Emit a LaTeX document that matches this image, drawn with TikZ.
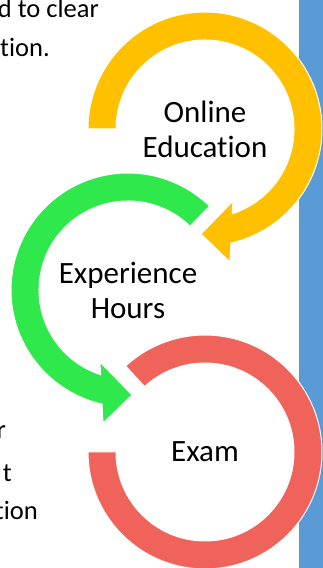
\documentclass[tikz,border=0pt]{standalone}
\usepackage{fontspec}
\setmainfont{Carlito}[Ligatures={NoCommon}]
\usetikzlibrary{calc}
\definecolor{barblue}{RGB}{91,155,213}
\definecolor{ringyellow}{RGB}{255,192,0}
\definecolor{ringgreen}{RGB}{46,232,76}
\definecolor{ringred}{RGB}{240,99,90}
\tikzset{
  ring/.style={draw=white, line width=1pt, line join=miter},
  lbl/.style={font=\fontsize{31}{35}\selectfont, align=center, inner sep=0pt},
  side/.style={font=\fontsize{26.5}{32}\selectfont, inner sep=0pt},
}
\begin{document}
\begin{tikzpicture}[x=1pt,y=1pt]
\useasboundingbox (0,0) rectangle (323,568);
\clip (0,0) rectangle (323,568);
% side bar
\fill[barblue] (299,0) rectangle (323,568);
% centres
\coordinate (Yc) at (205,439);
\coordinate (Gc) at (128,278);
\coordinate (Rc) at (205,116);
% yellow ring with arrow head
\fill[ringyellow, ring] ($(Yc)+(180:117)$) arc[start angle=180, end angle=-77.2, radius=117]
  -- ($(Yc)+(25,-133)$) -- ($(Yc)+(-4,-105)$) -- ($(Yc)+(28,-72)$)
  -- ($(Yc)+(-72.1:89)$) arc[start angle=-72.1, end angle=180, radius=89] -- cycle;
% green ring with arrow head
\fill[ringgreen, ring] ($(Gc)+(45.8:117)$) arc[start angle=45.8, end angle=257.2, radius=117]
  -- ($(Gc)+(-25,-133)$) -- ($(Gc)+(4,-105)$) -- ($(Gc)+(-28,-72)$)
  -- ($(Gc)+(252.1:89)$) arc[start angle=252.1, end angle=45.8, radius=89] -- cycle;
% red ring
\fill[ringred, ring] ($(Rc)+(132.7:117)$) arc[start angle=132.7, end angle=-180, radius=117]
  -- ($(Rc)+(-180:89)$) arc[start angle=-180, end angle=132.7, radius=89] -- cycle;
% labels
\node[lbl] (online) at (Yc) {Online\\Education};
\node[lbl] (experience) at (Gc) {Experience\\Hours};
\node[lbl] (exam) at (Rc) {Exam};
% side text fragments
\node[side, anchor=base east] (s1) at (99,550) {d to clear};
\node[side, anchor=base west] (s2) at (0,511) {tion.};
\node[side, anchor=base east] (s3) at (6,129) {r};
\node[side, anchor=base east] (s4) at (12,86) {t};
\node[side, anchor=base east] (s5) at (38,48) {tion};
\end{tikzpicture}
\end{document}
